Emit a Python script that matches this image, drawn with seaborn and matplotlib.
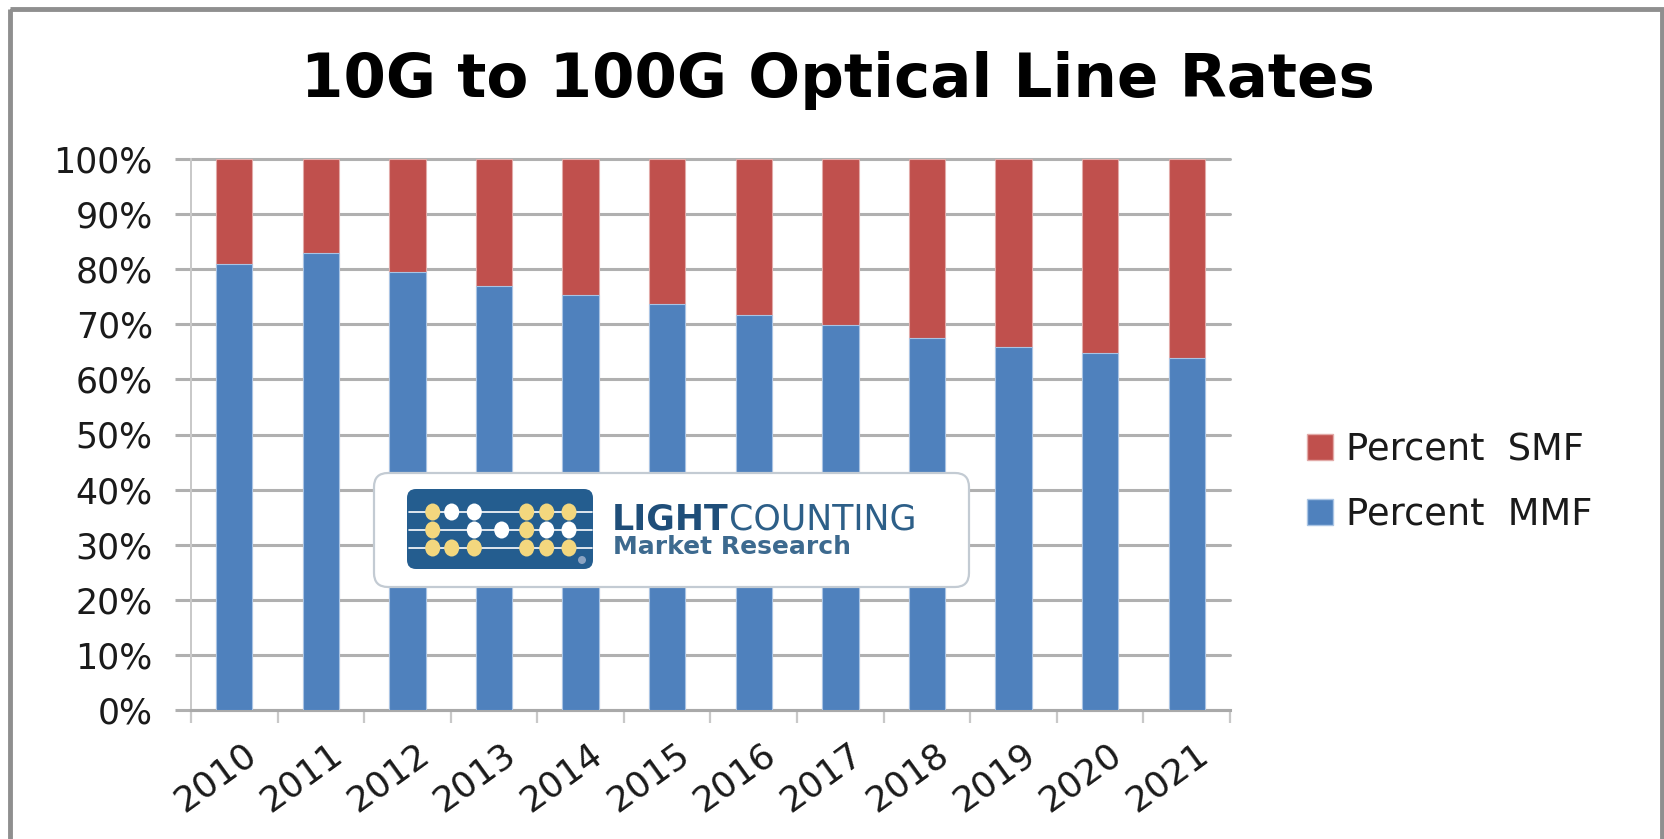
import numpy as np
import pandas as pd
import matplotlib
matplotlib.use("Agg")
import matplotlib.pyplot as plt
import seaborn as sns
from matplotlib.patches import FancyBboxPatch, Ellipse, Rectangle, Patch, Circle
from matplotlib.transforms import Affine2D, ScaledTranslation
from matplotlib.ticker import FixedLocator
from matplotlib.lines import Line2D

# ---- data -------------------------------------------------------------
years = ["2010", "2011", "2012", "2013", "2014", "2015",
         "2016", "2017", "2018", "2019", "2020", "2021"]
pct_mmf = [81.0, 83.0, 79.5, 77.0, 75.3, 73.6, 71.7, 69.8, 67.6, 65.9, 64.8, 63.8]
pct_smf = [19.0, 17.0, 20.5, 23.0, 24.7, 26.4, 28.3, 30.2, 32.4, 34.1, 35.2, 36.2]
y_ticks = [0, 10, 20, 30, 40, 50, 60, 70, 80, 90, 100]
title = "10G to 100G Optical Line Rates"
series_labels = ["Percent  SMF", "Percent  MMF"]

RED = "#C0504D"
BLUE = "#4F81BD"

W, H = 1665, 839
sns.set_theme(style="white")
plt.rcParams["font.family"] = ["DejaVu Sans"]

fig = plt.figure(figsize=(W / 100, H / 100), dpi=100)
fig.patch.set_facecolor("white")
# pixel coordinates with the origin at the top-left corner
px = Affine2D().scale(1 / W, -1 / H).translate(0, 1) + fig.transFigure

ax = fig.add_axes([191 / W, 1 - 710 / H, (1230 - 191) / W, (710 - 159) / H])

df = pd.DataFrame({"year": years, "mmf": pct_mmf, "smf": pct_smf})
df["total"] = df["mmf"] + df["smf"]

# 100% stacked columns: full-height SMF column, MMF share drawn over it
sns.barplot(data=df, x="year", y="total", color=RED, saturation=1, width=0.42,
            errorbar=None, ax=ax, edgecolor="#e2aaa8", linewidth=0.8, zorder=2)
sns.barplot(data=df, x="year", y="mmf", color=BLUE, saturation=1, width=0.42,
            errorbar=None, ax=ax, edgecolor="#a9c4e4", linewidth=0.8, zorder=3)

ax.set_xlim(-0.5, len(years) - 0.5)
ax.set_ylim(0, 100)
ax.set_xlabel("")
ax.set_ylabel("")
ax.set_yticks(y_ticks)
ax.set_yticklabels([f"{v}%" for v in y_ticks])
ax.set_xticks(range(len(years)))
ax.set_xticklabels(years)

ax.set_axisbelow(True)
ax.yaxis.grid(True, color="#b0b0b0", linewidth=2.2)
ax.xaxis.grid(False)
for gl in ax.get_ygridlines():
    gl.set_clip_on(False)

for s in ("top", "right"):
    ax.spines[s].set_visible(False)
ax.spines["left"].set_color("#c8c8c8")
ax.spines["left"].set_linewidth(1.4)
ax.spines["bottom"].set_color("#a9a9a9")
ax.spines["bottom"].set_linewidth(2.2)

ax.tick_params(axis="y", left=True, length=11.5, width=2.2, color="#b0b0b0",
               pad=16, labelsize=25, labelcolor="#1a1a1a")
ax.tick_params(axis="x", which="major", bottom=True, length=0, pad=19,
               labelsize=26, labelcolor="#1a1a1a")
ax.xaxis.set_minor_locator(FixedLocator(np.arange(-0.5, len(years), 1.0)))
ax.tick_params(axis="x", which="minor", bottom=True, length=9.4, width=1.6,
               color="#c8c8c8")
shift = ScaledTranslation(8 / 100, 0, fig.dpi_scale_trans)
for lbl in ax.get_xticklabels():
    lbl.set_rotation(36)
    lbl.set_ha("right")
    lbl.set_va("top")
    lbl.set_rotation_mode("anchor")
    lbl.set_transform(lbl.get_transform() + shift)

# title
fig.text(838, 97, title, transform=px, ha="center", va="baseline",
         fontsize=44, fontweight="bold", color="black")

# legend
handles = [Patch(facecolor=RED, edgecolor="#e2aaa8"),
           Patch(facecolor=BLUE, edgecolor="#a9c4e4")]
fig.legend(handles, series_labels, loc="center left",
           bbox_to_anchor=(1307 / W, 1 - 482 / H), frameon=False,
           fontsize=26.5, handlelength=0.7, handleheight=0.7,
           handletextpad=0.35, labelspacing=0.75, borderpad=0,
           borderaxespad=0, labelcolor="#1a1a1a")

# outer chart frame
fig.add_artist(Rectangle((10, 9), 1652, 900, transform=px, facecolor="none",
                         edgecolor="#8f8f8f", linewidth=3.5, clip_on=False))

# ---- company logo --------------------------------------------------------
fig.add_artist(FancyBboxPatch((374, 473), 595, 114, transform=px,
                              boxstyle="round,pad=0,rounding_size=14",
                              facecolor="white", edgecolor="#c3cbd3",
                              linewidth=1.6, zorder=5))
fig.add_artist(FancyBboxPatch((407, 489), 186, 80, transform=px,
                              boxstyle="round,pad=0,rounding_size=9",
                              facecolor="#245d8f", edgecolor="none", zorder=6))
rows_y = [512, 530, 548]
cols_x = [432.7, 451.7, 474.3, 501.7, 526.7, 546.7, 569.0]
for yy in rows_y:
    fig.add_artist(Line2D([409, 592], [yy, yy], transform=px, color="white",
                          linewidth=1.2, zorder=7))
YEL, WHT = "#f3d77e", "#ffffff"
bead_rows = [
    [YEL, WHT, WHT, None, YEL, YEL, YEL],
    [YEL, None, WHT, WHT, YEL, WHT, WHT],
    [YEL, YEL, YEL, None, YEL, YEL, YEL],
]
for yy, row in zip(rows_y, bead_rows):
    for xx, c in zip(cols_x, row):
        if c is not None:
            fig.add_artist(Ellipse((xx, yy), 15, 17, transform=px, facecolor=c,
                                   edgecolor="none", zorder=8))
fig.add_artist(Circle((582, 560), 4, transform=px, facecolor="#8aa3c2",
                      edgecolor="none", zorder=8))

t_light = fig.text(612, 520, "LIGHT", transform=px, ha="left", va="center",
                   fontsize=25, fontweight="bold", color="#1f4e79", zorder=9)
fig.canvas.draw()
bb = t_light.get_window_extent()
fig.text(bb.x1, 520, "COUNTING", transform=px, ha="left", va="center",
         fontsize=25, color="#2d5f88", zorder=9)
fig.text(613, 547, "Market Research", transform=px, ha="left", va="center",
         fontsize=18, fontweight="bold", color="#3d6a8f", zorder=9)

fig.savefig("out.png", dpi=100, facecolor="white")
